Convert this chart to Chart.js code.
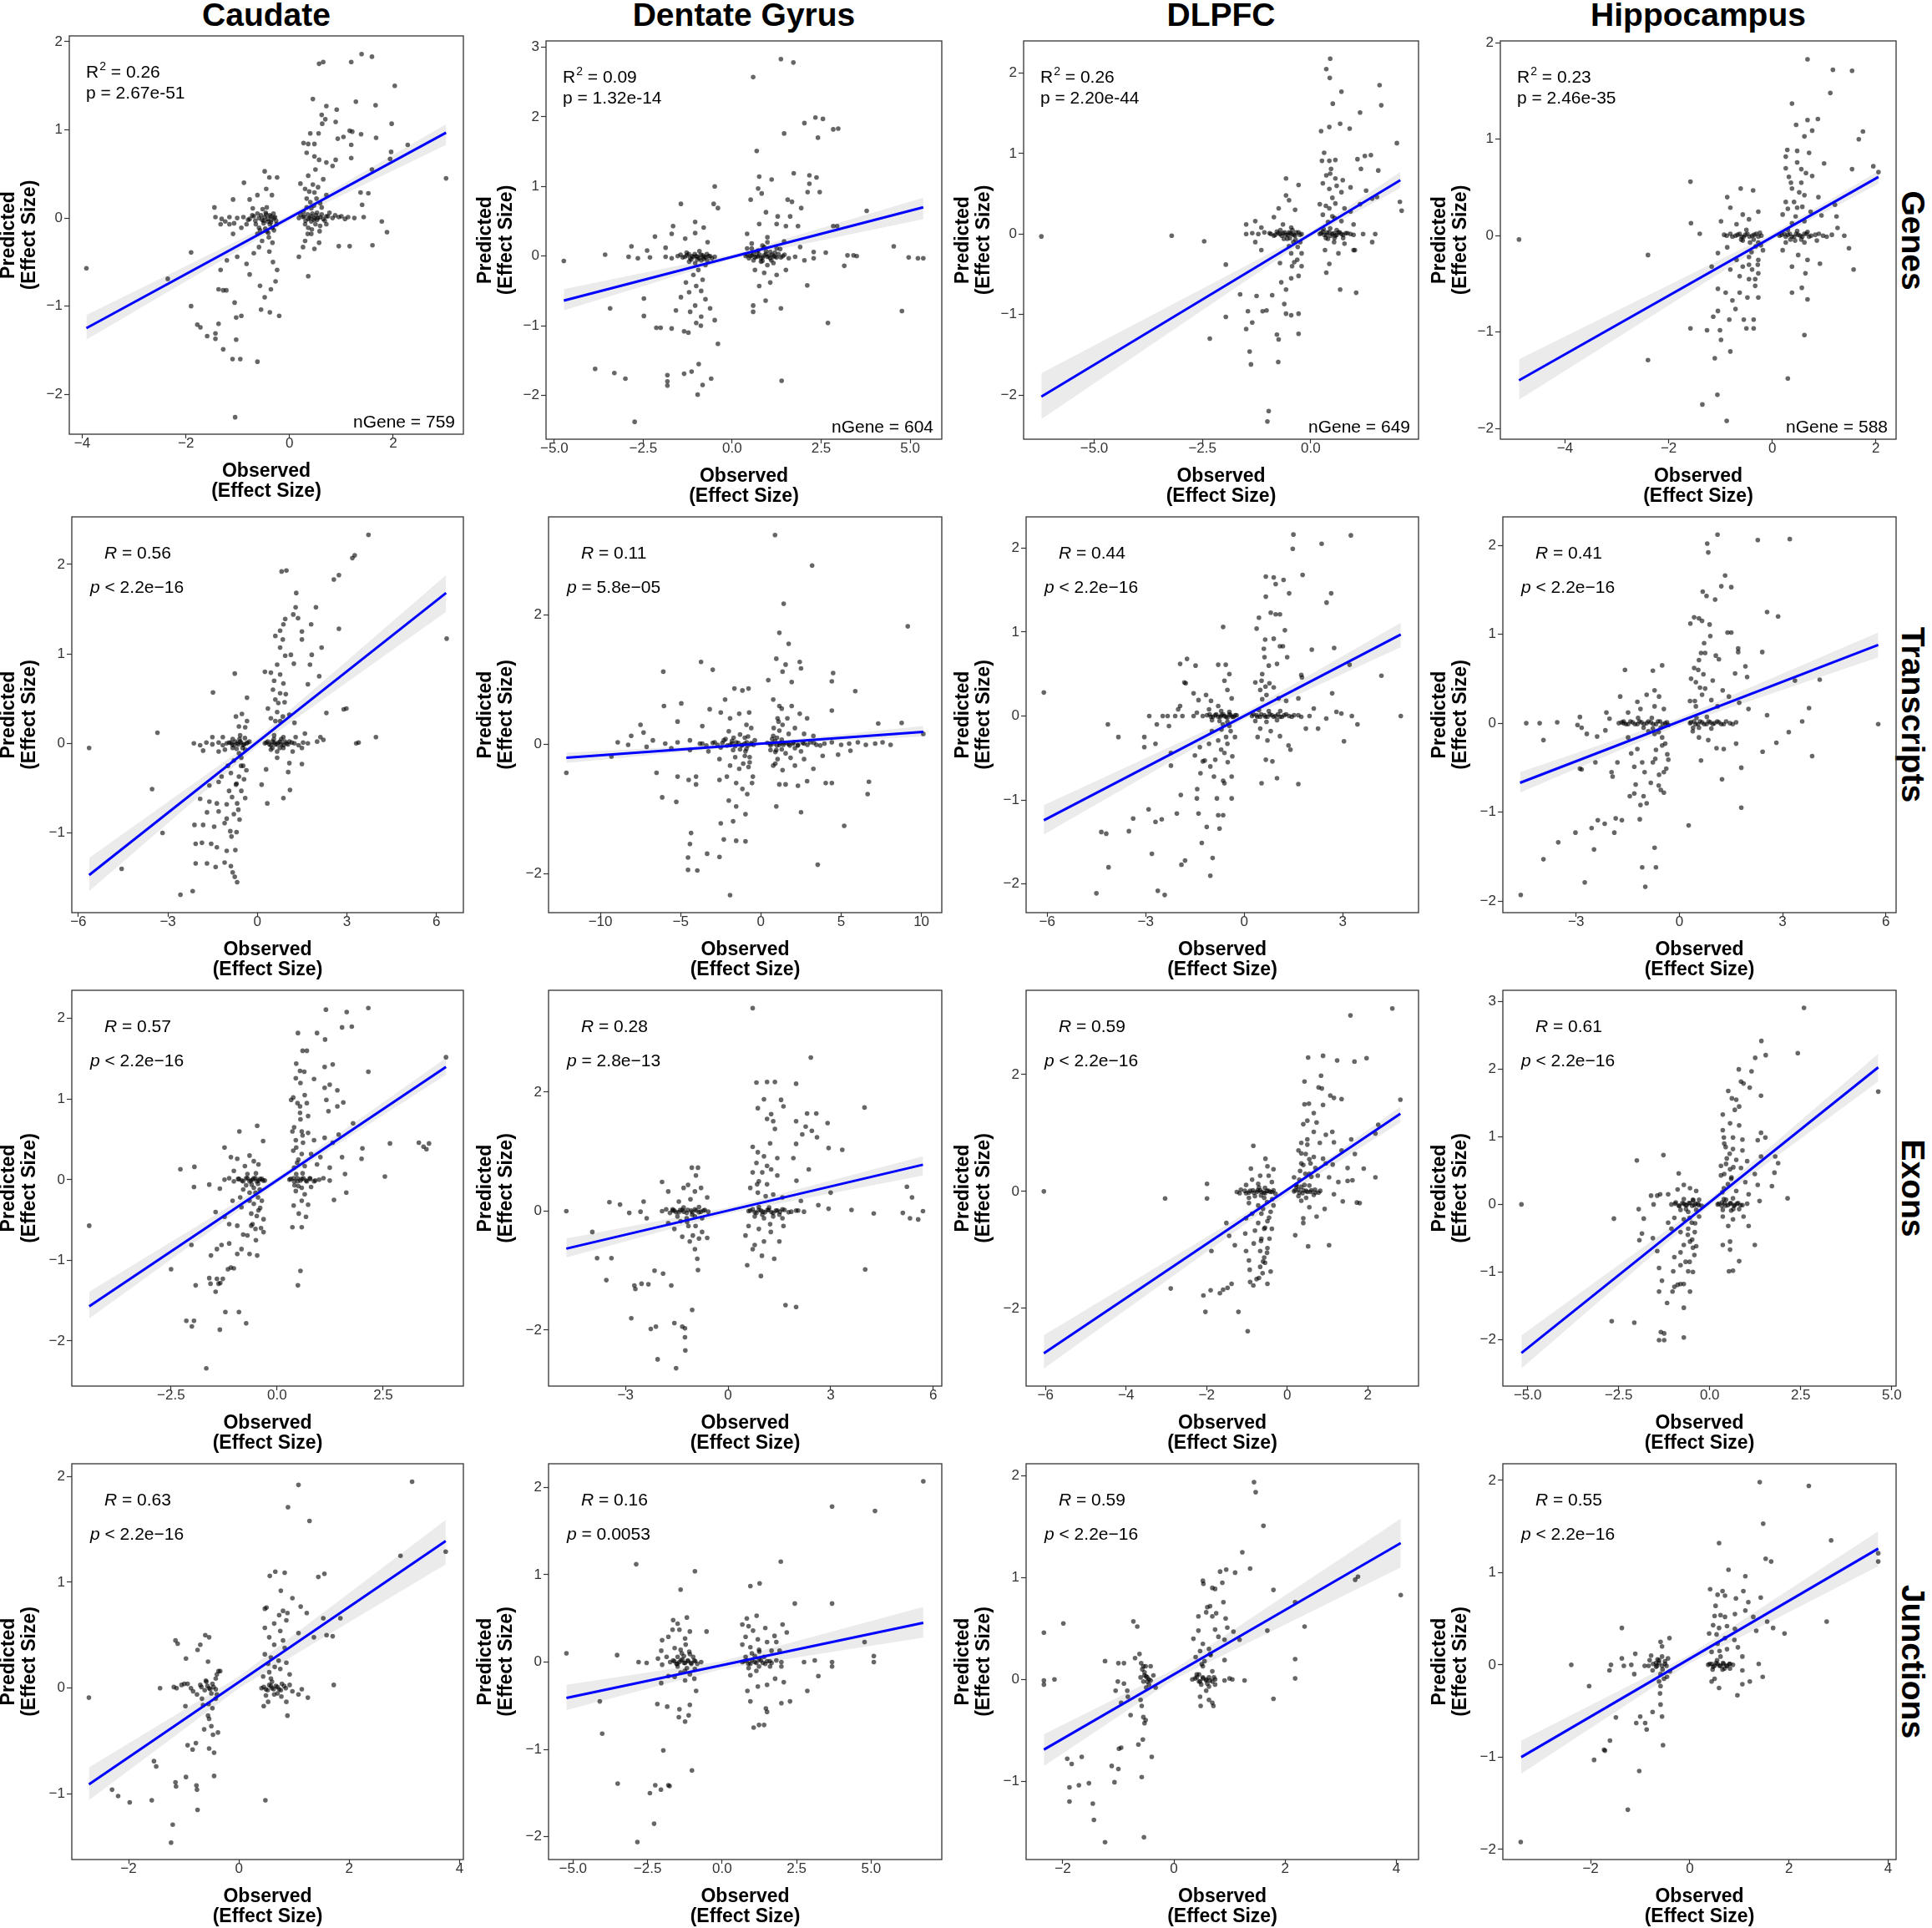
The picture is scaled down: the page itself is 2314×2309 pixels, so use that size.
<!DOCTYPE html>
<html><head><meta charset="utf-8">
<script src="https://cdn.jsdelivr.net/npm/chart.js@4.4.1/dist/chart.umd.min.js"></script>
<style>
html,body{margin:0;padding:0;background:#fff;}
#wrap{position:relative;width:2314px;height:2309px;overflow:hidden;background:#fff;}
#wrap canvas{position:absolute;}
.coltitle{position:absolute;top:-2px;font-family:'Liberation Sans',Arial,sans-serif;font-weight:bold;font-size:39px;line-height:39px;color:#000;transform:translateX(-50%);white-space:nowrap;}
.rowlabel{position:absolute;font-family:'Liberation Sans',Arial,sans-serif;font-weight:bold;font-size:39px;line-height:39px;color:#000;transform:translate(-50%,-50%) rotate(90deg);white-space:nowrap;}
</style></head>
<body><div id="wrap"></div>
<script>
// ---------------- DATA ----------------
const columns = ["Caudate", "Dentate Gyrus", "DLPFC", "Hippocampus"];
const rows = ["Genes", "Transcripts", "Exons", "Junctions"];

// statistics text
const statR = ["0.26","0.09","0.26","0.23", "0.56","0.11","0.44","0.41", "0.57","0.28","0.59","0.61", "0.63","0.16","0.59","0.55"];
const statP = ["= 2.67e-51","= 1.32e-14","= 2.20e-44","= 2.46e-35",
  "< 2.2e\u221216","= 5.8e\u221205","< 2.2e\u221216","< 2.2e\u221216",
  "< 2.2e\u221216","= 2.8e\u221213","< 2.2e\u221216","< 2.2e\u221216",
  "< 2.2e\u221216","= 0.0053","< 2.2e\u221216","< 2.2e\u221216"];
const nGene = ["759","604","649","588"];

// axis ranges
const xMin = [-4.25,-5.23,-6.63,-5.25, -6.22,-13.23,-6.64,-5.13, -4.84,-5.25,-6.48,-5.68, -3.03,-5.82,-2.66,-3.77];
const xMax = [3.354,5.89,2.49,2.39, 6.90,11.27,5.31,6.30, 4.39,6.25,3.26,5.12, 4.07,7.37,4.40,4.16];
const yMin = [-2.453,-2.63,-2.55,-2.11, -1.89,-2.60,-2.34,-2.13, -2.56,-2.94,-3.33,-2.69, -1.62,-2.26,-1.77,-2.11];
const yMax = [2.066,3.09,2.40,2.02, 2.53,3.51,2.37,2.32, 2.35,3.71,3.44,3.17, 2.12,2.27,2.12,2.18];

// ticks
const xTicks = [[-4,-2,0,2],[-5,-2.5,0,2.5,5],[-5,-2.5,0],[-4,-2,0,2],
  [-6,-3,0,3,6],[-10,-5,0,5,10],[-6,-3,0,3],[-3,0,3,6],
  [-2.5,0,2.5],[-3,0,3,6],[-6,-4,-2,0,2],[-5,-2.5,0,2.5,5],
  [-2,0,2,4],[-5,-2.5,0,2.5,5],[-2,0,2,4],[-2,0,2,4]];
const xTickLabels = [["\u22124","\u22122","0","2"],["\u22125.0","\u22122.5","0.0","2.5","5.0"],["\u22125.0","\u22122.5","0.0"],["\u22124","\u22122","0","2"],
  ["\u22126","\u22123","0","3","6"],["\u221210","\u22125","0","5","10"],["\u22126","\u22123","0","3"],["\u22123","0","3","6"],
  ["\u22122.5","0.0","2.5"],["\u22123","0","3","6"],["\u22126","\u22124","\u22122","0","2"],["\u22125.0","\u22122.5","0.0","2.5","5.0"],
  ["\u22122","0","2","4"],["\u22125.0","\u22122.5","0.0","2.5","5.0"],["\u22122","0","2","4"],["\u22122","0","2","4"]];
const yTicks = [[-2,-1,0,1,2],[-2,-1,0,1,2,3],[-2,-1,0,1,2],[-2,-1,0,1,2],
  [-1,0,1,2],[-2,0,2],[-2,-1,0,1,2],[-2,-1,0,1,2],
  [-2,-1,0,1,2],[-2,0,2],[-2,0,2],[-2,-1,0,1,2,3],
  [-1,0,1,2],[-2,-1,0,1,2],[-1,0,1,2],[-2,-1,0,1,2]];
const yTickLabels = yTicks.map(a => a.map(v => (v < 0 ? "\u2212" + Math.abs(v) : String(v))));

// regression line end points
const fitX0 = [-3.92,-4.73,-6.22,-4.89, -5.64,-12.12,-6.10,-4.63, -4.43,-4.73,-6.04,-5.17, -2.72,-5.22,-2.34,-3.40];
const fitY0 = [-1.25,-0.64,-2.02,-1.50, -1.47,-0.21,-1.24,-0.67, -1.57,-0.63,-2.77,-2.20, -0.91,-0.41,-0.69,-1.00];
const fitX1 = [3.02,5.37,2.07,2.05, 6.32,10.12,4.77,5.78, 3.98,5.70,2.81,4.63, 3.75,6.75,4.08,3.80];
const fitY1 = [0.968,0.70,0.67,0.61, 1.68,0.19,0.97,0.88, 1.40,0.78,1.33,2.03, 1.39,0.45,1.34,1.26];
// confidence band (left end, centre x=0, right end)
const bandLo = [[-1.38,-0.03,0.83],[-0.78,-0.04,0.53],[-2.30,-0.035,0.57],[-1.70,-0.045,0.54],
  [-1.65,-0.03,1.47],[-0.29,-0.01,0.12],[-1.41,-0.04,0.82],[-0.78,-0.02,0.74],
  [-1.72,-0.04,1.30],[-0.78,-0.04,0.60],[-3.03,-0.05,1.18],[-2.43,-0.02,1.82],
  [-1.06,0.0,1.17],[-0.55,-0.08,0.28],[-0.85,0.0,1.10],[-1.18,0.02,1.07]];
const bandHi = [[-1.10,0.035,1.065],[-0.475,0.02,0.84],[-1.73,0.03,0.77],[-1.28,0.02,0.67],
  [-1.28,0.06,1.88],[-0.13,0.025,0.28],[-1.06,0.04,1.11],[-0.55,0.06,1.02],
  [-1.39,0.03,1.51],[-0.46,0.06,0.92],[-2.46,0.05,1.45],[-1.94,0.08,2.23],
  [-0.75,0.11,1.59],[-0.26,0.01,0.63],[-0.54,0.10,1.58],[-0.82,0.11,1.45]];

// scatter points (x, y pairs)
const genesCaudate = [-3.92,-0.57,-2.35,-0.69,-1.90,-0.39,-1.90,-1.0,-1.78,-1.21,-1.72,-1.24,-1.59,-1.34,-1.43,-1.31,-1.43,-1.37,-1.37,-1.20,-1.28,-1.49,-1.10,-1.60,-0.95,-1.60,-0.62,-1.63,-1.05,-2.26,-1.03,-1.38,-1.06,-0.96,-1.03,-1.13,-0.93,-1.11,-1.37,-0.81,-1.28,-0.82,-1.22,-0.82,-1.33,-0.59,-1.21,-0.48,-0.38,-1.07,-0.20,-1.11,-0.55,-1.04,-0.48,-0.90,-0.57,-0.77,-0.36,-0.81,-0.27,-0.72,-0.77,-0.64,-0.83,-0.52,-1.01,-0.44,-0.69,-0.40,-0.59,-0.33,-0.39,-0.38,-0.32,-0.50,-0.24,-0.59,-1.09,-0.18,-1.16,-0.07,-1.45,0.12,-1.09,0.21,-0.88,0.40,-0.48,0.53,-0.39,0.46,-0.24,0.46,-0.45,0.33,-0.34,0.26,-0.62,0.26,-0.77,0.21,-0.71,0.11,
 -1.43,0.01,-1.31,-0.01,-1.16,0.01,-1.01,0,-0.89,0.01,-0.77,-0.01,-0.69,0.02,-0.59,0,-0.53,-0.02,-0.48,0.01,-0.42,-0.01,-0.36,0.02,-0.30,0,-0.26,-0.03,-0.45,0.04,-0.50,-0.06,-0.38,-0.07,-0.33,-0.11,-0.59,-0.11,-0.65,-0.07,-0.44,-0.15,-0.40,-0.22,-0.33,-0.28,-0.53,-0.26,-0.62,-0.18,-0.83,-0.07,-0.93,-0.11,-1.07,-0.06,-1.24,-0.04,-1.33,-0.07,
 0.57,1.75,0.65,1.77,1.19,1.77,1.39,1.86,1.59,1.83,2.03,1.50,0.45,1.35,0.71,1.27,1.28,1.32,1.66,1.28,0.91,1.23,0.62,1.17,0.69,1.12,0.89,1.09,0.63,1.07,1.97,1.07,0.40,0.96,0.56,0.96,1.16,0.99,1.21,0.98,1.38,0.95,1.67,0.91,0.93,0.90,1.04,0.92,1.19,0.83,0.27,0.85,0.36,0.84,0.48,0.84,2.28,0.83,1.96,0.75,1.94,0.67,1.19,0.68,0.89,0.66,0.71,0.63,0.33,0.74,0.48,0.70,0.57,0.66,0.83,0.59,0.50,0.55,0.36,0.48,0.65,0.44,1.59,0.55,3.02,0.45,0.21,0.39,0.30,0.33,0.48,0.29,0.71,0.26,1.37,0.29,1.52,0.28,1.40,0.15,0.33,0.22,0.59,0.17,0.42,0.11,
 0.18,0,0.26,0.01,0.36,-0.01,0.42,0.02,0.48,0,0.53,-0.02,0.59,0.01,0.65,-0.01,0.71,0.02,0.83,0,0.95,0.01,1.07,-0.01,1.25,0,1.43,0.01,0.42,-0.04,0.50,-0.07,0.30,-0.07,0.36,-0.11,0.59,-0.09,0.71,-0.07,0.21,0.04,0.27,0.07,0.53,0.06,0.77,0.06,
 1.78,-0.04,1.88,-0.16,1.60,-0.31,0.95,-0.32,1.16,-0.32,0.18,-0.44,0.36,-0.66,0.26,-0.33,0.48,-0.35,0.57,-0.28,0.30,-0.26,0.42,-0.18];
const genesCaudateCore = [-0.55,0.03,-0.50,-0.03,-0.46,0.06,-0.42,-0.04,-0.38,0.03,-0.35,-0.02,-0.31,0.05,-0.28,0.01,-0.62,0.05,-0.66,-0.03,-0.72,0.03,-0.80,-0.02,-0.47,-0.12,-0.41,-0.17,-0.36,-0.05,-0.52,0.10,-0.44,0.12,-0.30,-0.14,-0.25,-0.07,-0.57,-0.14,
 0.28,0.02,0.31,-0.03,0.35,0.04,0.39,0.0,0.44,0.05,0.47,-0.02,0.51,0.03,0.55,0.0,0.62,0.04,0.68,-0.03,0.74,0.02,0.33,0.12,0.40,0.18,0.47,0.14,0.52,0.22,0.38,0.30,0.45,0.38,0.55,0.35,0.62,0.12,0.35,-0.18,0.43,-0.13,0.58,-0.15,0.88,0.03,1.0,0.02,1.13,0.01];

const genesDentate = [1.37,2.83,1.72,2.78,0.59,2.57,2.03,1.91,2.34,1.99,2.55,1.97,2.84,1.82,2.98,1.83,1.46,1.76,2.41,1.70,0.69,1.51,1.73,1.19,2.17,1.16,2.37,1.13,0.76,1.14,1.11,1.10,-0.49,1.00,0.73,0.97,0.83,0.90,2.17,1.04,2.12,0.92,2.46,0.92,1.56,0.81,1.68,0.78,0.52,0.81,-1.44,0.75,-0.52,0.75,-0.40,0.69,3.78,0.65,0.95,0.63,1.28,0.57,1.63,0.57,1.94,0.69,2.84,0.43,2.95,0.43,-1.66,0.43,-1.04,0.49,-0.80,0.41,0.76,0.46,1.25,0.46,1.51,0.43,1.85,0.43,-2.17,0.28,-1.70,0.32,-1.04,0.33,-1.32,0.25,-0.69,0.20,-2.83,0.14,-2.39,0.08,-1.87,0.12,0.42,0.32,0.99,0.27,1.46,0.21,1.91,0.13,2.29,0.06,2.63,0.05,4.54,0.14,3.24,0.01,3.41,0.01,3.50,0,3.15,-0.14,4.96,-0.02,5.22,-0.03,5.37,-0.03,-4.73,-0.07,-3.57,0.02,-2.91,-0.01,-2.65,-0.03,-2.31,-0.02,
 -1.87,-0.01,-1.70,-0.03,-1.53,0,-1.39,-0.02,-1.27,0.01,-1.18,-0.03,-1.09,-0.01,-1.01,0,-0.92,-0.03,-0.83,0.01,-0.75,-0.02,-0.66,0,-0.57,-0.03,-0.49,-0.01,-1.21,-0.08,-1.04,-0.10,-0.87,-0.06,-0.75,-0.13,-0.95,-0.20,-1.09,-0.27,-0.83,-0.34,-1.30,-0.38,-1.01,-0.43,-1.21,-0.52,-0.87,-0.50,-0.75,-0.62,-1.04,-0.71,-1.18,-0.80,-0.87,-0.87,-1.44,-0.59,-1.58,-0.78,-0.62,-0.75,-0.49,-0.92,-1.35,-1.08,-1.70,-1.04,-2.01,-1.03,-1.01,-0.96,-0.88,-1.00,-1.23,-1.10,
 -3.43,-0.75,-2.48,-0.61,-2.48,-0.86,-2.13,-1.03,-0.40,-1.26,-3.85,-1.62,-3.31,-1.68,-3.00,-1.76,-1.82,-1.71,-1.82,-1.80,-1.82,-1.86,-1.35,-1.69,-1.14,-1.66,-0.94,-1.55,-0.59,-1.76,-0.83,-1.85,-0.97,-1.99,-2.74,-2.38,1.39,-1.79,0.59,-0.71,0.59,-0.80,0.94,-0.64,1.37,-0.75,2.69,-0.96,4.77,-0.79,
 0.38,0,0.47,-0.03,0.55,0.01,0.64,-0.02,0.73,0,0.81,-0.03,0.90,0.01,0.99,-0.01,1.07,-0.03,1.16,0,1.25,-0.02,1.42,0,1.59,-0.03,1.77,-0.01,0.73,0.08,0.90,0.13,1.07,0.06,1.25,0.11,0.81,-0.08,0.99,-0.13,1.16,-0.10,0.64,-0.20,0.90,-0.24,1.25,-0.27,1.07,-0.38,0.76,-0.43,1.51,-0.20,2.11,-0.42,2.03,-0.06,2.29,-0.03,0.42,0.11,0.55,0.18,0.99,0.20];
const genesDentateCore = [-1.45,0.02,-1.33,-0.01,-1.22,0.03,-1.13,0.0,-1.05,0.03,-0.97,-0.01,-0.88,0.02,-0.79,-0.01,-0.71,0.03,-0.62,0.0,-1.15,-0.05,-0.98,-0.05,-0.80,-0.04,-1.28,0.05,-0.92,0.07,-0.70,-0.06,
 0.42,0.02,0.51,0.0,0.60,0.03,0.68,-0.01,0.77,0.02,0.86,-0.02,0.95,0.03,1.03,0.0,1.12,0.02,1.20,-0.01,1.30,0.03,1.37,-0.02,1.47,0.02,0.60,-0.06,0.85,-0.07,1.10,-0.06,0.70,0.06,0.95,0.07,1.20,0.05,0.55,0.11,0.85,0.15,1.35,0.10];

const genesDLPFC = [-6.22,-0.03,-3.21,-0.02,-2.46,-0.09,-2.33,-1.30,-1.96,-0.38,-1.96,-1.03,-1.63,-0.75,-1.49,-1.18,-1.41,-1.46,-1.38,-1.62,-1.35,-1.10,-1.45,-0.96,-1.25,-0.77,-1.11,-0.96,-1.02,-0.95,-0.89,-0.76,-0.78,-1.25,-0.75,-1.59,-0.74,-1.31,-0.97,-2.20,-1.0,-2.33,-0.61,-0.87,-0.57,-0.99,-0.45,-1.01,-0.28,-0.99,-0.28,-1.24,-0.68,-0.60,-0.57,-0.69,-0.43,-0.40,-0.28,-0.52,-0.21,-0.40,-0.31,-0.32,-0.71,-0.36,-1.14,-0.20,-1.28,-0.10,-1.49,0,-1.35,0.01,-1.21,0,-1.07,0.02,-0.92,0,-0.85,-0.02,-0.78,0.03,-0.71,0,-0.64,0.01,-0.57,-0.01,-0.50,0.02,-0.43,0,-0.36,-0.02,-0.28,0.02,-0.21,0,-0.54,-0.06,-0.40,-0.10,-0.45,0.08,-0.64,0.12,-0.85,0.21,-0.74,0.32,-0.57,0.48,-0.57,0.69,-0.28,0.61,-0.50,0.42,-0.36,0.30,-1.28,0.16,-1.14,0.08,-1.49,0.12,-0.24,-0.10,-0.21,-0.24,-0.45,-0.24,
 0.45,2.18,0.36,2.05,0.44,1.94,0.71,1.77,1.59,1.85,1.63,1.60,0.51,1.62,1.14,1.51,0.68,1.37,0.43,1.33,0.24,1.28,0.90,1.31,1.99,1.13,0.31,1.01,0.26,0.91,0.43,0.91,0.57,0.92,1.08,0.93,1.25,0.97,1.39,0.98,1.16,0.81,1.56,0.79,0.47,0.81,0.36,0.73,0.57,0.69,0.74,0.67,0.92,0.58,0.28,0.63,0.43,0.56,0.71,0.52,1.28,0.54,1.42,0.44,1.53,0.46,2.06,0.40,2.10,0.29,1.14,0.37,0.21,0.37,0.43,0.32,0.57,0.38,0.78,0.32,0.92,0.28,0.28,0.24,0.50,0.22,0.71,0.16,0.99,0.12,
 0.21,0,0.28,0.03,0.36,-0.01,0.43,0.02,0.50,0,0.57,-0.02,0.64,0.02,0.71,0,0.85,0.01,0.99,-0.01,1.21,0,1.49,0,0.40,-0.06,0.54,-0.10,0.78,-0.12,0.33,-0.20,0.64,-0.24,0.99,-0.20,0.43,-0.37,0.36,-0.48,0.68,-0.69,1.05,-0.73,1.02,-0.20,1.42,-0.10];
const genesDLPFCCore = [-0.95,0.01,-0.82,-0.01,-0.75,0.01,-0.67,-0.02,-0.60,0.02,-0.53,-0.01,-0.47,0.01,-0.39,-0.01,-0.33,0.02,-0.25,-0.01,-0.62,-0.06,-0.48,-0.05,-0.35,-0.07,-0.70,0.05,-0.42,0.05,-0.30,-0.16,-0.50,-0.15,-0.38,-0.35,-0.45,-0.55,
 0.24,0.01,0.31,-0.01,0.38,0.02,0.46,-0.02,0.53,0.01,0.60,-0.01,0.67,0.02,0.75,-0.01,0.81,0.01,0.92,0.0,0.30,0.06,0.45,0.07,0.60,0.05,0.35,-0.05,0.55,-0.05,0.75,-0.05,0.40,0.15,0.55,0.20,0.35,0.35,0.50,0.45,0.60,0.60,0.45,0.75];

const genesHippo = [-4.89,-0.04,-2.40,-0.20,-2.40,-1.29,-1.58,0.56,-1.57,0.13,-1.58,-0.96,-1.40,0.02,-1.35,-1.75,-1.26,-0.98,-1.11,-1.27,-1.06,-1.65,-0.88,-1.92,-0.81,-1.20,-0.99,-1.08,-1.01,-0.98,-1.14,-0.84,-1.05,-0.78,-0.83,-0.87,-0.71,-0.76,-0.55,-0.87,-0.36,-0.87,-0.36,-0.96,-0.50,-0.96,-1.05,-0.55,-0.90,-0.59,-0.77,-0.67,-0.63,-0.59,-0.48,-0.64,-0.27,-0.64,-0.33,-0.52,-0.45,-0.45,-0.63,-0.42,-0.81,-0.35,-0.57,-0.32,-0.39,-0.35,-0.27,-0.39,-1.17,-0.32,-1.05,-0.18,-0.87,-0.12,-0.69,-0.25,-0.45,-0.22,-0.27,-0.25,-0.18,-0.15,
 -0.93,0.01,-0.81,0.02,-0.71,0,-0.63,0.02,-0.55,-0.01,-0.48,0.02,-0.39,0,-0.31,0.02,-0.21,0,-0.57,-0.05,-0.43,-0.07,-0.27,-0.07,
 -0.87,0.40,-0.61,0.49,-0.37,0.47,-0.81,0.29,-0.57,0.22,-0.99,0.15,-0.45,0.17,-0.27,0.25,-0.69,0.12,
 0.68,1.83,1.17,1.72,1.54,1.71,1.12,1.48,0.38,1.37,0.88,1.21,0.68,1.20,0.46,1.15,0.77,1.09,1.75,1.08,1.67,1.0,0.62,1.03,0.29,0.89,0.48,0.88,0.71,0.86,1.0,0.75,0.26,0.82,0.48,0.76,0.56,0.69,0.26,0.70,0.77,0.62,1.54,0.69,1.95,0.72,2.05,0.66,0.32,0.61,0.56,0.55,0.38,0.49,0.62,0.42,0.89,0.40,0.26,0.35,0.48,0.29,0.74,0.25,0.95,0.21,1.21,0.32,1.24,0.20,1.26,0.08,0.20,0.22,0.38,0.13,0.62,0.15,
 0.14,0,0.23,0.02,0.30,0.01,0.38,-0.01,0.46,0.02,0.54,0,0.62,0.02,0.71,-0.01,0.83,0.01,0.98,0,1.15,0.01,1.39,0,0.44,-0.05,0.62,-0.07,0.86,-0.05,0.26,-0.07,
 0.20,-0.15,0.50,-0.20,0.68,-0.25,0.38,-0.32,0.64,-0.39,0.92,-0.29,1.48,-0.13,1.57,-0.35,0.57,-0.54,0.38,-0.59,0.68,-0.66,0.62,-1.03,0.30,-1.48];
const genesHippoCore = [-0.88,0.0,-0.77,-0.01,-0.67,0.01,-0.59,-0.01,-0.52,0.01,-0.44,-0.01,-0.35,0.01,-0.27,-0.01,-0.24,0.03,-0.60,-0.04,-0.36,-0.04,-0.50,0.06,-0.32,-0.11,-0.40,-0.17,-0.28,-0.30,-0.45,-0.30,-0.33,-0.45,-0.22,-0.10,
 0.18,0.01,0.26,-0.01,0.34,0.02,0.42,-0.01,0.50,0.01,0.58,-0.01,0.66,0.02,0.75,0.0,0.90,0.02,1.05,-0.01,0.30,0.06,0.48,0.05,0.68,0.04,0.35,-0.04,0.56,-0.04,0.30,0.28,0.42,0.35,0.52,0.45,0.36,0.55,0.58,0.30,0.45,0.20,0.65,0.65];

const txCaudate = [-5.64,-0.05,-4.55,-1.40,-3.53,-0.51,-3.35,0.12,-3.18,-1.00,-2.58,-1.69,-2.17,-1.65,-2.07,-1.34,-1.69,-1.34,-1.40,-1.38,-1.10,-1.33,-0.89,-1.37,-0.83,-1.44,-0.76,-1.49,-0.68,-1.55,-2.07,-1.12,-1.86,-1.11,-1.55,-1.12,-1.36,-1.16,-1.03,-1.20,-0.74,-1.19,-2.11,-0.91,-1.82,-0.91,-1.45,-0.93,-1.10,-0.89,-0.91,-0.98,-0.70,-0.99,-0.87,-1.04,-1.69,-0.77,-1.30,-0.76,-1.03,-0.84,-0.79,-0.79,-0.64,-0.74,-1.92,-0.62,-1.61,-0.65,-1.36,-0.67,-1.03,-0.68,-0.68,-0.67,-0.41,-0.61,-0.54,-0.53,-1.61,-0.47,-1.30,-0.43,-0.95,-0.53,-0.72,-0.46,-1.20,-0.37,-0.89,-0.33,-0.62,-0.37,-0.37,-0.30,-0.48,-0.25,-0.99,-0.25,-0.79,-0.19,-0.54,-0.16,-1.49,0.57,-0.76,0.78,-0.35,0.51,-0.72,0.30,-0.52,0.33,-0.35,0.25,-0.62,0.19,-0.41,0.18,
 -2.13,0,-1.92,-0.02,-1.71,0.01,-1.51,-0.01,-1.30,0.01,-1.16,-0.02,-1.03,0,-0.89,0.01,-0.79,-0.02,-0.68,0,-0.58,0.02,-0.48,-0.02,-0.37,0,-0.27,0.02,-1.30,-0.09,-1.09,-0.07,-0.83,-0.05,-0.62,-0.11,-0.41,-0.07,-1.82,-0.08,-1.51,0.07,-1.16,0.07,-0.83,0.05,-0.58,0.09,
 3.72,2.33,3.18,2.07,3.26,2.10,0.81,1.92,0.97,1.93,2.56,1.83,2.73,1.88,1.30,1.68,1.96,1.52,1.28,1.52,1.20,1.44,1.36,1.40,0.93,1.39,0.87,1.33,1.80,1.33,0.76,1.26,2.73,1.28,1.49,1.25,0.60,1.20,0.85,1.16,1.49,1.16,0.76,1.07,2.15,1.07,0.93,0.98,1.12,0.99,1.82,0.99,0.66,0.88,1.22,0.89,1.76,0.88,0.25,0.80,0.45,0.79,0.76,0.77,2.07,0.75,0.56,0.70,0.87,0.67,1.69,0.66,0.52,0.60,0.76,0.56,0.60,0.49,0.91,0.46,0.35,0.39,0.66,0.35,1.07,0.32,2.89,0.38,2.98,0.39,2.31,0.34,0.45,0.28,0.76,0.25,1.24,0.23,6.34,1.17,3.97,0.07,3.39,0.01,3.31,0,
 0.25,0,0.35,0.02,0.45,-0.02,0.56,0.01,0.66,-0.01,0.76,0.02,0.87,-0.02,0.97,0,1.07,0.02,1.24,0,1.38,-0.02,1.53,0.01,1.69,0,2.00,0.02,2.21,0.04,0.45,-0.07,0.66,-0.09,0.87,-0.05,1.18,-0.09,1.49,-0.05,0.56,0.09,0.87,0.07,1.28,0.07,1.59,0.11,2.11,0.07,
 0.29,-0.29,0.66,-0.16,1.07,-0.22,1.49,-0.23,1.03,-0.32,1.09,-0.52,0.87,-0.61,0.33,-0.67,0.14,-0.46];
const txCaudateCore = [-0.95,0.01,-0.85,-0.01,-0.74,0.02,-0.64,-0.01,-0.55,0.01,-0.45,-0.01,-0.33,0.01,-0.70,-0.06,-0.50,-0.05,-0.60,0.05,-0.42,0.06,-0.55,-0.25,-0.45,-0.40,-0.70,-0.45,-0.60,-0.85,-0.85,-0.60,
 0.30,0.01,0.40,-0.01,0.50,0.02,0.60,-0.01,0.70,0.01,0.80,-0.01,0.92,0.02,1.02,-0.01,1.15,0.01,0.50,-0.05,0.75,-0.05,0.55,0.05,0.80,0.05,0.60,0.25,0.70,0.45,0.95,0.55,0.85,0.30];

const txDentate = [0.88,3.23,3.19,2.76,1.42,2.17,9.15,1.82,1.15,1.72,1.73,1.55,-3.73,1.27,-3.0,1.15,-6.08,1.12,0.96,1.32,1.54,1.23,2.42,1.27,0.46,0.99,1.35,1.12,1.92,0.96,2.50,1.17,4.50,1.10,4.42,0.97,5.88,0.82,-1.65,0.86,-1.15,0.83,-0.77,0.86,-2.23,0.69,-6.04,0.59,-4.96,0.63,-3.19,0.54,-2.50,0.49,-1.92,0.40,-1.35,0.47,-0.73,0.49,0.77,0.69,1.15,0.59,1.92,0.59,2.42,0.47,2.88,0.40,4.42,0.52,7.31,0.32,8.77,0.33,-7.50,0.30,-5.19,0.35,-3.65,0.28,-8.92,0.03,-8.08,0.13,-7.31,0.18,-6.73,0.06,-5.96,0.01,-5.19,0.03,-4.42,0.06,-3.65,0.01,-2.88,0.03,-2.31,0.06,-1.92,-0.01,-1.54,0.03,-1.15,-0.01,-0.88,0.03,-0.58,0,-0.38,0.06,-2.50,-0.05,-1.73,-0.09,-0.96,-0.11,-3.27,-0.11,-4.42,-0.09,-5.58,-0.06,-7.12,-0.04,-8.27,-0.01,-9.31,-0.19,-12.12,-0.44,-6.5,-0.44,-5.19,-0.50,-4.5,-0.55,-4.04,-0.50,-4.04,-0.62,-2.58,-0.55,-2.12,-0.50,-1.54,-0.60,-1.15,-0.69,-0.85,-0.77,-1.92,-0.33,-1.35,-0.38,-0.77,-0.35,-2.58,-0.23,-6.15,-0.82,-5.27,-0.89,-2.50,-1.22,-1.73,-1.19,-2.0,-0.87,-1.54,-0.96,-0.96,-1.08,-4.35,-1.37,-4.42,-1.54,-2.31,-1.47,-1.54,-1.49,-0.96,-1.50,-4.54,-1.75,-3.35,-1.69,-2.58,-1.74,-4.54,-1.94,-3.96,-1.95,-1.92,-2.33,0.96,-0.96,2.50,-1.05,5.19,-1.26,3.54,-1.86,6.65,-0.77,6.73,-0.58,4.04,-0.60,4.42,-0.60,1.15,-0.62,1.54,-0.62,2.31,-0.64,2.88,-0.57,0.77,-0.33,1.35,-0.40,2.12,-0.33,3.27,-0.38,1.04,-0.23,1.85,-0.21,2.69,-0.23,3.85,-0.18,4.81,-0.16,5.58,-0.10,
 0.58,0.01,0.88,0.05,1.15,-0.01,1.42,0.02,1.73,0,2.04,0.03,2.31,-0.01,2.69,0.01,3.08,0.03,3.46,-0.01,3.96,0.01,4.42,0.03,5.0,-0.01,5.5,0.01,6.04,0.03,6.54,-0.01,7.12,0.01,7.58,0.03,8.08,-0.01,0.77,0.13,1.15,0.21,1.35,0.30,1.73,0.16,2.12,0.25,1.04,0.40,1.65,0.40,2.69,0.16,3.27,0.13,0.96,-0.09,1.54,-0.14,2.12,-0.06,2.50,-0.11,10.12,0.16,
 -1.0,0.1,-0.7,-0.2,-1.3,0.15,-0.6,0.25,-2.0,0.2,-1.6,-0.2,-0.5,-0.5,-1.1,-0.3,-0.8,0.12,-1.8,0.05];
const txDentateCore = [-3.8,0.01,-3.4,-0.02,-3.0,0.02,-2.7,-0.01,-2.4,0.02,-2.1,-0.02,-1.8,0.01,-1.6,-0.03,-1.4,0.02,-1.2,-0.02,-1.0,0.01,-0.8,-0.02,-0.6,0.02,-0.45,-0.01,-1.3,-0.08,-0.9,-0.07,-2.2,0.08,-1.7,0.10,-1.0,-0.18,-0.7,-0.28,-0.55,-0.60,-0.9,0.30,
 0.4,0.02,0.6,-0.02,0.8,0.01,1.0,-0.02,1.2,0.02,1.4,-0.01,1.6,0.02,1.8,-0.02,2.0,0.01,2.3,-0.02,2.6,0.02,2.9,-0.01,3.3,0.02,3.7,-0.02,0.7,0.08,1.0,0.10,1.3,0.07,0.6,-0.09,0.9,-0.12,1.3,-0.08,0.8,0.25,1.1,0.35,1.3,0.55,0.9,-0.30];

const txDLPFC = [-6.10,0.28,-4.50,-2.11,-4.35,-1.38,-4.20,-1.40,-4.13,-1.80,-4.15,-0.10,-3.83,-0.25,-3.51,-1.37,-3.38,-1.22,-3.04,-0.25,-3.04,-0.37,-2.91,-1.11,-2.81,-1.64,-2.70,-1.26,-2.51,-1.23,-2.63,-2.08,-2.42,-2.13,-2.89,0,-2.66,-0.10,-2.70,-0.33,-2.48,0,-2.33,0,-2.29,-0.12,-2.23,-0.44,-2.23,-0.59,-2.05,-1.16,-1.91,-1.77,-1.80,-1.72,-1.93,-0.94,-1.95,0.62,-1.74,0.68,-1.48,0.60,-1.82,0.40,-1.78,0.39,-1.95,0.12,-2.01,0.08,-2.10,0,-1.88,0,-1.54,0,-1.44,0.04,-1.54,0.27,-1.39,0.19,-1.50,-0.47,-1.35,-0.37,-1.26,-0.54,-1.33,-0.68,-1.43,-0.87,-1.44,-0.98,-1.39,-1.16,-1.29,-1.51,-1.14,-1.32,-1.03,-1.90,-0.96,-1.69,-0.79,-1.18,-0.64,-1.18,-0.75,-1.34,-0.83,-0.98,-0.92,-0.72,-0.64,-0.77,-0.38,-0.72,-0.38,-0.98,-1.03,-0.60,-1.20,-0.53,-0.88,-0.52,-0.60,-0.44,-0.36,-0.48,-1.07,-0.33,-0.79,-0.29,-0.51,-0.33,-0.28,-0.25,-0.98,-0.18,-0.69,-0.16,-0.41,-0.18,-1.16,0.25,-1.01,0.18,-0.79,0.61,-0.56,0.61,-0.64,1.06,-0.45,0.50,-0.60,0.42,-0.51,0.31,-0.38,0.21,-0.79,0.12,-1.07,0.08,
 -1.26,0,-1.13,0.01,-1.01,-0.01,-0.88,0.01,-0.79,-0.01,-0.69,0.01,-0.60,0,-0.51,-0.02,-0.41,0.01,-0.32,-0.01,-0.23,0.01,-0.75,-0.06,-0.51,-0.07,-0.98,-0.05,
 1.50,2.16,1.48,1.99,2.36,2.05,3.25,2.15,1.78,1.68,0.66,1.66,0.90,1.65,1.20,1.62,0.96,1.57,2.65,1.46,1.37,1.46,0.66,1.42,2.51,1.35,0.81,1.23,0.96,1.21,1.09,1.21,0.45,1.17,0.38,1.04,1.24,1.02,0.90,0.92,0.64,0.91,1.09,0.83,1.18,0.83,1.31,0.70,2.06,0.79,2.74,0.81,0.62,0.70,1.00,0.62,3.21,0.61,4.18,0.48,1.74,0.49,1.76,0.46,0.34,0.40,0.53,0.42,0.77,0.39,0.90,0.34,0.49,0.31,0.68,0.25,1.05,0.21,2.68,0.27,1.28,0.18,1.65,0.21,2.12,0.09,2.81,0.05,2.96,0.03,3.28,0,4.77,0,3.45,-0.10,3.04,-0.30,2.50,-0.03,2.25,-0.15,1.88,-0.15,1.41,-0.40,1.35,-0.35,0.66,-0.52,0.86,-0.54,0.53,-0.80,1.0,-0.74,1.65,-0.81,0.41,-0.25,0.71,-0.29,1.09,-0.24,0.49,-0.15,0.81,-0.18,
 0.24,0,0.38,0.01,0.49,-0.01,0.62,0.01,0.71,-0.01,0.84,0.01,0.96,0,1.09,-0.01,1.22,0.01,1.37,0,1.52,0.01,1.74,-0.01,1.99,0,0.34,-0.06,0.68,-0.07,1.0,-0.05];
const txDLPFCCore = [-1.05,0.02,-0.95,-0.01,-0.85,0.02,-0.73,-0.01,-0.64,0.02,-0.55,-0.01,-0.45,0.02,-0.36,-0.01,-0.27,0.01,-0.70,0.06,-0.45,0.05,-0.65,-0.10,-0.45,-0.12,-0.55,-0.25,-0.70,-0.40,-0.50,-0.55,-0.60,-0.80,
 0.28,0.02,0.40,-0.01,0.52,0.02,0.65,-0.01,0.78,0.02,0.90,-0.01,1.03,0.02,1.15,-0.01,1.28,0.02,1.45,-0.01,1.65,0.01,0.45,0.07,0.75,0.06,1.10,0.06,0.55,0.20,0.65,0.35,0.55,0.50,0.75,0.60,0.60,0.80];

const txHippo = [-4.61,-1.93,-4.45,0,-4.06,0,-3.95,-0.19,-3.95,-1.53,-3.55,0.01,-3.52,-1.34,-3.02,-1.23,-2.75,-1.79,-2.55,-1.18,-2.48,-1.42,-2.37,-1.09,-2.17,-1.13,-1.89,-1.23,-1.85,-1.07,-1.67,-1.09,-1.15,-1.08,-1.08,-1.62,-0.99,-1.84,-0.72,-1.40,-0.68,-1.62,0.27,-1.15,-2.89,0.07,-2.96,-0.02,-2.84,-0.05,-2.69,-0.12,-2.39,-0.15,-2.44,-0.44,-2.84,-0.52,-2.89,-0.51,-2.15,-0.08,-2.12,0.12,-2.03,0.05,-1.97,-0.55,-1.94,-0.60,-1.80,-0.44,-1.72,0.30,-1.58,0.60,-1.62,0,-1.49,0.12,-1.49,-0.16,-1.40,-0.34,-1.31,-0.49,-1.27,-0.69,-1.22,-0.29,-1.13,0.16,-1.22,0.24,-1.08,-0.44,-1.01,-0.55,-1.04,-0.82,-1.44,-0.82,-1.31,-0.79,-1.13,-0.92,-0.95,-0.90,-0.83,-0.67,-0.77,-0.44,-0.68,-0.30,-0.59,-0.58,-0.54,-0.75,-0.45,-0.78,-0.38,-0.51,-0.41,-0.23,-0.32,-0.41,-0.50,-0.16,-0.72,-0.12,-0.90,-0.09,-0.77,0.59,-0.50,0.65,-0.72,0.37,-0.95,0.32,-0.59,0.30,-0.72,0.19,-0.45,0.16,
 -1.76,0,-1.62,0.02,-1.49,-0.01,-1.36,0.01,-1.22,-0.01,-1.10,0.01,-0.95,0,-0.83,0.01,-0.68,-0.01,-0.56,0.02,-0.41,0,-0.32,-0.02,-1.04,-0.05,-0.77,-0.06,-0.54,-0.05,
 1.11,2.12,0.81,2.02,0.84,1.92,2.28,2.06,3.21,2.07,1.33,1.66,1.22,1.54,1.51,1.53,0.68,1.48,0.79,1.43,1.04,1.39,2.55,1.25,2.87,1.20,0.43,1.19,0.57,1.18,0.32,1.12,0.66,1.15,0.88,1.11,1.40,1.02,1.51,1.02,0.90,0.98,0.72,0.90,1.71,0.84,1.71,0.80,2.41,0.80,0.63,0.79,0.75,0.79,1.06,0.76,0.57,0.71,1.15,0.72,0.43,0.62,1.92,0.64,1.62,0.56,1.97,0.52,4.08,0.49,3.36,0.48,0.34,0.50,0.48,0.46,0.75,0.39,0.97,0.48,1.26,0.37,1.44,0.30,0.66,0.32,0.93,0.26,0.31,0.25,0.48,0.19,1.11,0.19,1.74,0.23,2.01,0.16,2.55,0.09,3.77,0.17,3.57,0.02,3.18,-0.10,2.82,-0.22,2.42,-0.32,3.86,-0.37,5.78,-0.01,1.80,-0.50,1.24,-0.63,1.80,-0.95,0.63,-0.42,1.08,-0.28,1.29,-0.29,1.65,-0.23,0.57,-0.16,0.84,-0.19,0.39,-0.09,
 0.31,0,0.43,0.02,0.54,-0.01,0.66,0.01,0.79,-0.01,0.90,0.01,1.02,0,1.15,0.01,1.29,-0.01,1.47,0,1.65,0.01,0.57,-0.05,0.93,-0.06];
const txHippoCore = [-1.68,0.01,-1.55,-0.01,-1.42,0.02,-1.29,-0.01,-1.16,0.02,-1.03,-0.01,-0.90,0.02,-0.76,-0.01,-0.62,0.02,-0.48,-0.01,-0.36,0.01,-1.20,0.06,-0.80,0.06,-0.60,-0.10,-0.50,-0.25,-0.70,-0.40,-0.45,-0.55,-0.60,-0.70,-0.35,-0.35,
 0.34,0.01,0.47,-0.01,0.60,0.02,0.72,-0.01,0.85,0.02,0.97,-0.01,1.10,0.02,1.22,-0.01,1.36,0.02,1.55,-0.01,0.50,0.06,0.80,0.07,0.45,0.25,0.60,0.40,0.55,0.60,0.70,0.55,0.40,-0.05];

const exCaudate = [-4.43,-0.57,-2.5,-1.11,-2.28,0.13,-2.14,-1.75,-2.01,-1.82,-1.96,-1.75,-1.95,0.16,-1.96,-0.09,-1.92,-1.31,-2.02,-0.81,-1.67,-2.34,-1.60,-1.22,-1.57,-1.29,-1.45,-1.39,-1.42,-1.23,-1.38,-1.29,-1.35,-1.86,-1.34,-1.28,-1.28,-1.23,-1.22,-1.64,-1.16,-1.11,-1.09,-1.09,-1.02,-1.10,-0.90,-1.64,-0.73,-1.78,-1.56,-0.94,-1.42,-0.86,-1.31,-0.81,-1.13,-0.79,-0.94,-0.92,-0.84,-0.86,-0.65,-0.92,-0.47,-0.94,-1.45,-0.40,-1.24,-0.46,-1.13,-0.55,-0.94,-0.57,-0.80,-0.68,-0.70,-0.69,-0.61,-0.57,-0.51,-0.61,-0.32,-0.65,-1.05,-0.26,-0.84,-0.34,-0.61,-0.42,-0.44,-0.38,-0.32,-0.49,-0.87,-0.22,-0.65,-0.26,-0.51,-0.16,-0.36,-0.26,-0.47,0.67,-0.89,0.60,-0.33,0.48,-1.24,0.40,-1.09,0.28,-0.94,0.26,-0.65,0.30,-0.55,0.23,-0.44,0.19,-0.76,0.17,-1.02,0.11,-1.60,-0.06,-1.35,-0.11,
 -1.24,0,-1.13,0.02,-1.02,-0.02,-0.92,0.01,-0.83,-0.01,-0.73,0.02,-0.65,-0.02,-0.58,0,-0.51,0.02,-0.44,-0.01,-0.36,0.01,-0.29,-0.01,-0.73,-0.07,-0.55,-0.10,-0.41,-0.12,-0.80,-0.12,-0.65,-0.16,
 1.15,2.11,1.64,2.08,2.15,2.13,1.53,1.89,1.76,1.90,0.49,1.82,0.94,1.82,1.13,1.74,0.60,1.60,0.70,1.60,0.45,1.44,1.12,1.40,1.31,1.43,2.15,1.34,0.54,1.35,0.64,1.34,0.44,1.26,0.55,1.20,0.87,1.25,1.12,1.14,1.24,1.18,1.42,1.11,0.38,1.02,0.33,0.99,0.54,0.91,0.70,0.95,1.16,0.99,1.56,0.96,1.42,0.91,0.54,0.83,0.73,0.79,1.21,0.85,1.79,0.70,0.36,0.60,0.58,0.60,0.73,0.58,1.45,0.56,0.44,0.49,0.61,0.46,0.87,0.49,1.12,0.52,1.31,0.46,2.66,0.45,3.34,0.46,3.45,0.41,3.52,0.38,3.58,0.45,2.01,0.39,0.38,0.36,0.58,0.32,0.80,0.32,1.02,0.28,1.53,0.28,1.99,0.26,0.47,0.21,0.65,0.17,0.94,0.19,1.24,0.15,1.60,0.07,2.54,0.04,3.98,1.52,
 0.29,0,0.39,0.02,0.48,-0.02,0.58,0.01,0.68,-0.01,0.77,0.02,0.87,-0.02,0.99,0,1.09,0.02,1.24,-0.01,0.41,-0.07,0.58,-0.10,0.80,-0.09,0.44,-0.14,0.65,-0.18,
 0.39,-0.32,0.58,-0.26,0.73,-0.31,0.51,-0.42,0.68,-0.46,0.36,-0.59,0.58,-0.59,1.34,-0.25,1.63,-0.16,0.55,-1.13,0.49,-1.31];
const exCaudateCore = [-0.90,0.01,-0.80,-0.02,-0.70,0.02,-0.62,-0.01,-0.55,0.02,-0.48,-0.02,-0.40,0.01,-0.33,-0.01,-0.60,-0.06,-0.45,-0.05,-0.70,0.07,-0.50,0.08,-0.45,-0.22,-0.55,-0.30,-0.40,-0.35,-0.48,-0.45,-0.58,-0.55,-0.38,-0.60,-0.50,-0.75,
 0.32,0.01,0.40,-0.02,0.48,0.02,0.55,-0.01,0.62,0.02,0.70,-0.02,0.78,0.01,0.90,-0.01,0.45,0.07,0.60,0.08,0.50,-0.08,0.40,0.15,0.50,0.25,0.45,0.40,0.60,0.55,0.40,0.65,0.55,0.75,0.48,0.95,0.65,1.05];

const exDentate = [-4.73,0,-3.97,-0.35,-3.83,-0.79,-3.56,-1.16,-3.41,-0.79,-3.47,0.15,-3.16,0.11,-2.89,-0.03,-2.83,-1.80,-2.74,-1.25,-2.71,-1.31,-2.53,-1.22,-2.33,-1.23,-2.47,0.16,-2.56,-0.01,-2.38,-0.12,-2.26,-1.98,-2.11,-1.94,-2.06,-2.49,-2.15,-1.0,-1.90,-1.05,-1.66,-1.25,-1.52,-2.64,-1.57,-1.88,-1.34,-1.94,-1.26,-2.12,-1.25,-2.34,-1.05,-1.66,-1.26,-1.97,-1.93,0.49,-1.75,0.33,-1.62,0.03,-1.44,0.16,-1.30,0.39,-1.17,0.44,-0.97,0.33,-1.06,0.73,-0.88,0.73,-0.94,0.60,-0.79,0.39,-0.61,0.23,-1.75,-0.20,-1.57,-0.30,-1.39,-0.17,-1.34,-0.43,-1.16,-0.25,-1.12,-0.51,-1.03,-0.41,-0.97,-0.64,-0.90,-0.80,-0.85,-0.46,-0.76,-0.35,-0.61,-0.45,-0.88,-0.99,
 -1.93,0,-1.81,0.03,-1.70,-0.03,-1.57,0.01,-1.44,-0.02,-1.34,0.02,-1.21,-0.03,-1.08,0.01,-0.97,0.03,-0.85,-0.02,-0.72,0.01,-0.58,-0.01,-1.48,-0.09,-1.21,-0.12,-0.97,-0.09,-0.76,-0.12,
 0.72,3.41,2.42,2.58,0.83,2.16,1.14,2.17,1.37,2.17,1.99,2.14,3.99,1.74,1.05,1.88,1.55,1.87,1.62,1.76,0.87,1.73,1.26,1.63,2.31,1.64,2.58,1.64,1.14,1.55,1.32,1.51,1.99,1.51,2.91,1.48,2.27,1.42,1.37,1.38,2.45,1.35,2.60,1.24,2.17,1.29,1.23,1.14,1.99,1.13,2.94,1.06,3.34,1.03,0.72,1.08,0.87,0.99,1.05,0.92,1.44,0.89,1.91,0.89,0.83,0.81,1.14,0.76,1.26,0.70,2.36,0.70,0.72,0.65,1.44,0.60,0.90,0.50,1.14,0.45,2.0,0.51,3.0,0.31,0.65,0.39,0.87,0.31,1.32,0.28,1.59,0.23,2.13,0.17,2.64,0.10,2.94,0.04,3.61,0.02,4.26,-0.04,5.11,-0.03,5.23,0.41,5.38,0.23,5.32,-0.12,5.56,-0.14,5.70,0,4.01,-0.98,
 0.60,0,0.72,0.03,0.83,-0.03,0.96,0.01,1.08,-0.02,1.19,0.02,1.32,-0.03,1.44,0.01,1.59,0.03,1.77,-0.02,1.99,0.01,2.22,-0.01,0.78,-0.09,1.05,-0.12,1.32,-0.09,1.59,-0.12,
 0.60,-0.25,0.90,-0.30,1.23,-0.22,1.62,-0.25,0.51,-0.41,0.78,-0.57,1.05,-0.51,1.50,-0.51,0.56,-0.91,0.99,-0.75,1.35,-0.80,0.96,-1.09,1.68,-1.58,1.99,-1.61,0.72,-0.64];
const exDentateCore = [-1.62,0.01,-1.52,-0.02,-1.40,0.02,-1.30,-0.01,-1.18,0.02,-1.05,-0.02,-0.93,0.01,-0.80,-0.01,-0.68,0.02,-1.30,0.06,-1.05,-0.06,-0.85,0.07,-1.20,-0.18,-0.95,-0.25,-1.10,0.20,
 0.65,0.01,0.78,-0.02,0.90,0.02,1.02,-0.01,1.15,0.02,1.27,-0.02,1.40,0.01,1.52,-0.01,1.65,0.02,1.85,-0.01,2.05,0.01,0.90,0.07,1.20,0.06,1.50,-0.06,1.00,-0.06,1.10,0.25,0.85,0.45,1.00,0.65,1.25,-0.35];

const exDLPFC = [-6.04,0,-3.03,-0.12,-2.89,-1.66,-2.08,-1.78,-2.03,-2.06,-1.99,0.13,-1.99,-0.12,-1.88,-1.02,-1.90,-1.69,-1.67,-1.74,-1.59,-1.68,-1.48,-1.65,-1.38,-1.58,-1.51,-0.54,-1.44,-0.76,-1.30,-0.92,-1.21,-2.06,-0.98,-2.39,-1.04,-0.72,-1.02,-1.02,-0.95,-1.18,-0.93,-1.34,-0.92,-1.55,-0.84,-1.61,-0.76,-1.50,-0.70,-1.48,-0.61,-1.40,-0.67,-1.29,-0.55,-1.22,-0.49,-1.58,-0.41,-1.37,-0.57,-1.13,-0.67,-1.02,-0.49,-0.97,-0.83,-0.89,-0.64,-0.81,-0.44,-0.81,-0.80,-0.67,-0.57,-0.64,-0.38,-0.64,-0.72,-0.54,-0.49,-0.51,-1.02,-0.46,-0.87,-0.38,-0.64,-0.38,-0.41,-0.35,-0.34,-0.24,-0.72,-0.24,-0.95,-0.20,-1.18,-0.03,-0.84,0.78,-0.90,0.39,-0.54,0.56,-0.49,0.43,-0.67,0.27,-0.46,0.27,-0.34,0.38,-0.87,0.20,-1.02,0.11,-0.72,0.13,-0.38,0.16,
 -1.25,-0.01,-1.15,0.03,-1.02,-0.03,-0.92,0.01,-0.83,-0.02,-0.73,0.02,-0.64,-0.01,-0.55,-0.03,-0.46,0.01,-0.37,-0.01,-0.29,-0.04,-0.80,-0.08,-0.57,-0.11,-0.37,-0.13,-0.95,-0.11,
 2.61,3.13,1.57,3.01,0.52,2.29,0.89,2.32,1.24,2.24,1.67,2.22,1.97,2.28,0.84,1.98,0.43,1.88,0.78,1.78,0.86,1.76,1.07,1.64,1.16,1.60,1.35,1.58,2.81,1.57,0.43,1.49,0.54,1.50,0.89,1.48,0.66,1.34,0.50,1.21,0.73,1.18,0.40,1.15,1.12,1.02,0.66,1.02,0.96,0.97,0.50,0.89,0.35,0.83,0.81,0.83,1.16,0.84,2.19,0.99,2.26,1.14,1.35,0.70,1.68,0.64,1.59,0.89,0.28,0.70,0.46,0.64,0.66,0.59,0.89,0.56,0.35,0.48,0.58,0.48,0.96,0.48,1.13,0.46,1.50,0.40,1.90,0.39,2.19,0.24,0.32,0.35,0.55,0.30,0.76,0.27,1.04,0.24,1.27,0.16,1.50,0.18,1.62,0.19,0.17,0.24,0.23,0.11,1.16,-0.05,1.38,-0.17,1.73,-0.19,1.80,-0.20,0.93,-0.30,0.73,-0.43,0.40,-0.46,0.40,-0.54,0.20,-0.75,0.52,-0.94,1.04,-0.92,0.55,-0.27,0.35,-0.16,
 0.17,0,0.28,0.03,0.38,-0.03,0.47,0.01,0.58,-0.01,0.69,0.03,0.78,-0.02,0.28,-0.08,0.47,-0.11,0.66,-0.06,0.23,0.08,0.43,0.11];
const exDLPFCCore = [-1.05,0.01,-0.95,-0.02,-0.85,0.02,-0.75,-0.01,-0.67,0.02,-0.58,-0.02,-0.50,0.01,-0.42,-0.01,-0.34,0.02,-0.70,0.07,-0.55,0.06,-0.65,-0.07,-0.50,-0.18,-0.60,-0.30,-0.45,-0.45,-0.55,-0.62,-0.65,-0.85,-0.50,-1.05,-0.60,-1.20,
 0.20,0.02,0.30,-0.02,0.40,0.02,0.50,-0.01,0.60,0.02,0.70,-0.02,0.82,0.01,0.35,0.08,0.55,0.10,0.30,0.20,0.45,0.30,0.60,0.25,0.40,0.45,0.55,0.55,0.35,0.65,0.50,0.80,0.70,0.40];

const exHippo = [-5.17,0,-2.69,-1.73,-2.63,-0.21,-2.07,-1.75,-2.0,0.65,-1.95,-0.07,-1.93,-0.53,-1.86,-0.43,-1.81,-0.21,-1.61,0.13,-1.54,0,-1.44,0.13,-1.36,0.15,-1.27,0.73,-1.25,-1.91,-1.34,-1.89,-1.39,-2.01,-1.25,-2.01,-1.39,-1.29,-1.39,-0.94,-1.31,-1.13,-1.44,-0.69,-1.56,-0.50,-1.17,-1.46,-1.02,-1.29,-0.97,-1.22,-0.88,-1.19,-0.80,-1.18,-0.71,-1.18,-0.71,-1.53,-0.71,-1.97,-0.54,-1.29,-1.0,-0.99,-0.80,-0.90,-0.66,-0.85,-0.59,-0.99,-0.46,-1.0,-0.97,-0.78,-0.80,-0.71,-0.71,-0.60,-0.54,-0.55,-0.46,-0.64,-0.37,-0.62,-0.41,-0.41,-0.59,-0.36,-0.80,-0.41,-1.05,-0.36,-1.14,-0.27,-0.97,-0.20,-0.71,-0.22,-0.49,-0.27,-0.29,-0.18,-0.85,0.46,-1.14,0.15,-0.88,0.22,-0.71,0.29,-0.54,0.24,-0.37,0.20,-0.29,0.07,
 -1.05,0,-0.93,0.03,-0.83,-0.02,-0.71,0.01,-0.63,-0.01,-0.53,0.02,-0.42,-0.01,-0.32,0.01,-0.22,-0.02,-0.80,-0.08,-0.59,-0.11,-0.37,-0.08,-0.71,0.08,-0.46,0.07,
 2.59,2.91,1.42,2.42,2.42,2.24,1.54,2.21,1.25,2.17,0.80,2.0,1.15,1.97,0.86,1.82,0.93,1.79,0.51,1.68,1.10,1.73,0.61,1.57,0.73,1.55,1.41,1.61,0.81,1.45,0.69,1.40,0.36,1.33,0.56,1.20,0.81,1.17,0.36,1.10,0.39,0.99,0.64,0.99,0.90,0.96,1.41,1.06,1.53,0.99,1.32,0.95,0.44,0.85,0.64,0.82,0.90,0.80,0.47,0.68,0.73,0.66,1.03,0.64,1.41,0.71,1.80,0.71,1.88,0.61,0.31,0.57,0.56,0.52,0.86,0.54,1.24,0.45,1.78,0.47,0.31,0.43,0.59,0.38,0.98,0.33,1.32,0.29,1.71,0.27,1.37,0.05,2.14,0.09,4.63,1.67,0.39,0.24,0.73,0.20,1.07,0.15,
 0.22,0,0.34,0.03,0.44,-0.02,0.56,0.01,0.68,-0.01,0.78,0.02,0.90,-0.01,1.03,0.01,0.36,-0.08,0.59,-0.09,0.81,-0.07,0.39,0.08,0.64,0.09,
 0.36,-0.18,0.64,-0.22,0.93,-0.18,0.51,-0.32,1.07,-0.32,0.36,-0.60,0.56,-0.67,0.56,-0.55,1.24,-0.60,0.53,-0.99,0.64,-0.98,0.81,-0.84];
const exHippoCore = [-0.95,0.01,-0.85,-0.02,-0.75,0.02,-0.66,-0.01,-0.57,0.02,-0.48,-0.02,-0.39,0.01,-0.30,-0.01,-0.65,-0.07,-0.45,0.06,-0.55,-0.20,-0.40,-0.28,-0.60,-0.45,-0.48,-0.52,-0.42,-0.75,-0.55,-0.85,
 0.25,0.01,0.33,-0.02,0.41,0.02,0.50,-0.01,0.58,0.02,0.67,-0.02,0.75,0.01,0.85,-0.01,0.45,0.07,0.65,-0.07,0.35,0.18,0.50,0.30,0.40,0.45,0.60,0.40,0.45,0.60,0.55,0.75,0.40,0.90,0.65,0.55];

const jnCaudate = [-2.72,-0.09,-2.30,-0.96,-2.19,-1.02,-1.98,-1.08,-1.58,-1.06,-1.54,-0.69,-1.50,-0.74,-1.43,0,-1.23,-1.46,-1.20,-1.29,-1.15,-0.89,-1.14,-0.93,-1.15,0.45,-1.11,0.42,-1.18,0.01,-1.13,0,-1.04,0.03,-0.99,0.04,-0.96,-0.84,-0.96,0.28,-0.97,-0.17,-0.93,-0.54,-0.93,0.04,-0.87,0,-0.83,-0.03,-0.84,-0.58,-0.78,-0.52,-0.75,-1.15,-0.77,-0.92,-0.76,-0.96,-0.75,0.36,-0.70,0.41,-0.76,-0.06,-0.70,0.03,-0.67,-0.10,-0.65,-0.16,-0.63,-0.39,-0.61,0.50,-0.54,0.48,-0.56,0.25,-0.59,0.06,-0.54,0,-0.48,0.04,-0.42,-0.01,-0.56,-0.26,-0.54,-0.29,-0.50,-0.36,-0.47,-0.44,-0.45,-0.61,-0.45,-0.83,-0.54,-0.57,-0.42,0.09,-0.40,0.13,-0.37,0.16,-0.34,0.16,-0.40,-0.06,-0.48,-0.19,-0.42,-0.10,-0.38,-0.42,
 3.14,1.95,1.08,1.92,0.89,1.71,1.28,1.58,2.93,1.25,3.75,1.29,0.56,1.06,0.66,1.10,0.83,1.09,1.44,1.05,1.55,1.08,0.76,0.92,0.97,0.85,0.47,0.75,0.50,0.76,0.80,0.73,0.88,0.71,1.12,0.77,1.23,0.71,0.73,0.69,0.64,0.61,0.86,0.64,1.53,0.66,1.84,0.66,0.47,0.57,0.75,0.54,1.08,0.52,1.36,0.48,1.59,0.50,1.70,0.49,0.55,0.48,0.80,0.45,0.64,0.41,0.83,0.38,0.47,0.32,0.58,0.29,0.72,0.26,0.86,0.24,0.53,0.23,0.75,0.18,0.92,0.13,0.44,0.11,0.58,0.09,0.41,0,0.49,-0.01,0.55,0.03,0.60,0,0.67,0.02,0.73,-0.01,0.78,0.04,0.85,0,0.92,0.03,0.64,-0.06,0.49,-0.07,0.77,-0.08,0.97,-0.03,0.45,-0.17,0.53,-0.13,0.86,-0.13,1.08,-0.06,1.25,-0.09,1.14,-0.01,0.88,-0.26,1.72,0.03,0.48,-1.06];
const jnCaudateCore = [-0.68,0.01,-0.62,-0.02,-0.57,0.02,-0.52,-0.01,-0.46,0.01,-0.60,0.07,-0.50,-0.05,-0.55,-0.15,
 0.45,0.01,0.52,-0.02,0.58,0.02,0.63,-0.01,0.70,0.01,0.76,-0.02,0.82,0.02,0.60,0.06,0.70,-0.05,0.55,0.15,0.65,0.20];

const jnDentate = [-5.22,0.10,-4.10,-0.45,-4.02,-0.82,-3.52,0.08,-3.50,-1.39,-2.88,1.12,-2.84,-2.06,-2.80,0,-2.53,-0.01,-2.42,-1.50,-2.28,-1.85,-2.24,-1.41,-2.15,0.04,-2.05,-1.46,-2.04,-0.24,-1.97,-1.01,-1.80,-1.41,-1.76,-1.42,-2.17,-0.48,-1.84,-0.51,-2.01,-0.03,-1.86,0.06,-2.04,0.13,-2.01,0.25,-1.80,0.29,-1.66,0.37,-1.64,0.48,-1.49,0.44,-1.39,0.83,-1.43,0.37,-1.24,0.27,-1.18,0.51,-1.08,0.35,-0.91,1.04,-0.52,0.35,-1.01,-1.24,-1.45,-0.63,-1.24,-0.68,-1.12,-0.61,-1.43,-0.54,-1.08,-0.49,-0.87,-0.33,-1.80,-0.16,-1.59,-0.17,-1.39,-0.12,-1.24,-0.21,-1.08,-0.14,-0.93,-0.19,
 -1.74,0,-1.64,0.02,-1.53,-0.02,-1.43,0,-1.33,0.03,-1.24,-0.01,-1.14,0.01,-1.04,-0.01,-0.93,0.02,-0.83,-0.02,-0.70,0,-1.49,0.06,-1.28,0.07,-1.08,0.09,-1.39,0.14,-1.59,0.16,-1.22,0.20,-0.97,0.06,-1.49,-0.05,-1.18,-0.07,-0.91,-0.08,
 6.75,2.07,3.69,1.78,5.13,1.73,1.97,1.15,0.95,0.87,1.26,0.90,2.44,0.67,3.69,0.67,0.83,0.50,1.16,0.53,2.03,0.43,2.17,0.34,0.68,0.43,0.89,0.41,1.04,0.36,1.45,0.39,1.76,0.30,0.79,0.29,1.20,0.26,1.51,0.23,1.82,0.23,4.78,0.23,0.68,0.20,0.95,0.17,1.24,0.14,1.66,0.13,1.93,0.13,5.09,0.07,5.09,0,3.69,0,3.69,-0.05,3.11,0.02,2.75,0,3.23,-0.16,2.86,-0.33,2.28,-0.45,1.99,-0.05,2.07,-0.23,1.78,-0.19,1.51,-0.26,1.20,-0.28,0.85,-0.33,0.95,-0.45,1.47,-0.53,1.51,-0.57,1.99,-0.47,1.06,-0.75,1.24,-0.72,1.41,-0.72,
 0.68,0,0.83,0.02,0.95,-0.02,1.10,0,1.24,0.03,1.37,-0.01,1.51,0.01,1.66,-0.01,1.82,0.02,1.99,0,0.79,0.06,1.10,0.07,1.41,0.06,0.89,-0.07,1.24,-0.05,1.61,-0.05];
const jnDentateCore = [-1.60,0.01,-1.50,-0.02,-1.38,0.02,-1.27,-0.01,-1.15,0.02,-1.03,-0.02,-0.90,0.01,-1.35,0.10,-1.10,0.12,-1.25,-0.10,
 0.75,0.01,0.88,-0.02,1.00,0.02,1.15,-0.01,1.30,0.02,1.45,-0.02,1.60,0.01,1.00,0.10,1.25,0.12,1.15,-0.10,0.95,-0.15];

const jnDLPFC = [-2.34,0.46,-2.34,-0.01,-2.34,-0.05,-2.15,0,-1.99,0.55,-1.92,-0.78,-1.88,-1.06,-1.88,-1.20,-1.84,-0.83,-1.71,-1.04,-1.66,-0.76,-1.53,-1.02,-1.46,-1.22,-1.44,-1.38,-1.24,-1.60,-1.24,0.18,-1.12,-0.85,-1.07,-1.01,-1.0,-0.88,-0.99,-0.68,-0.95,-0.67,-1.05,-0.11,-1.01,-0.02,-1.0,0.16,-0.90,0.16,-0.90,-0.04,-0.84,-0.11,-0.95,-0.23,-0.83,-0.17,-0.78,-0.35,-0.73,0.57,-0.66,0.52,-0.70,0.21,-0.62,0.25,-0.64,-0.64,-0.60,-0.20,-0.58,-0.26,-0.58,-0.96,-0.56,-0.59,-0.54,-1.55,-0.55,-0.37,-0.53,-0.43,-0.51,-0.40,-0.55,0.13,-0.59,0.16,-0.53,0.07,-0.53,0.04,-0.48,0.02,-0.48,-0.02,-0.42,-0.01,-0.42,0.13,-0.40,-0.76,-0.37,0.04,-0.33,-0.08,-0.45,-0.05,-0.51,0.13,
 1.44,1.94,1.47,1.84,1.61,1.51,1.23,1.25,1.37,1.09,0.83,1.06,0.94,1.08,1.10,1.05,0.52,0.97,0.53,0.94,0.69,0.90,0.74,0.89,0.87,0.95,1.79,0.88,0.60,0.71,0.65,0.72,0.69,0.62,0.89,0.76,0.44,0.62,0.58,0.66,0.76,0.65,0.93,0.60,2.18,0.76,2.35,0.52,1.68,0.48,0.44,0.48,0.74,0.49,0.80,0.42,0.96,0.51,1.07,0.47,0.91,0.39,0.35,0.40,0.52,0.35,0.63,0.30,0.47,0.28,0.66,0.24,0.91,0.19,0.39,0.22,0.55,0.18,0.52,0.13,0.69,0.08,0.41,0.05,1.18,0.39,3.26,0.98,3.31,1.01,4.08,0.83,2.18,0.20,2.18,0.01,1.79,-0.19,1.27,-0.01,
 0.33,0,0.41,0.02,0.47,-0.02,0.52,0.01,0.58,-0.01,0.63,0.02,0.69,-0.02,0.74,0,0.91,-0.01,1.00,0.01,1.05,0,0.49,-0.05,0.63,-0.07,0.58,-0.11,0.47,-0.17,0.63,-0.20,0.69,-0.23,0.48,-0.26,0.74,-0.05,0.71,-0.26];
const jnDLPFCCore = [-0.60,0.02,-0.55,-0.02,-0.50,0.03,-0.45,0.0,-0.57,0.10,-0.50,-0.08,
 0.38,0.01,0.45,-0.02,0.52,0.02,0.58,0.0,0.65,-0.01,0.72,0.02,0.45,0.05,0.60,-0.04,0.50,0.15,0.65,0.25];

const jnHippo = [-3.41,-1.92,-2.39,0,-2.03,-0.23,-1.93,-1.03,-1.73,-0.92,-1.71,-0.93,-1.62,-0.06,-1.59,0,-1.61,-0.82,-1.49,-0.57,-1.37,0.40,-1.37,0.07,-1.33,-0.01,-1.25,-1.57,-1.18,0,-1.12,-0.10,-1.10,0.12,-1.08,-0.63,-1.02,-1.15,-1.0,-0.56,-0.91,-0.01,-0.90,-0.63,-0.87,-0.70,-0.83,-0.01,-0.81,0.05,-0.78,0.10,-0.75,-0.51,-0.75,-0.06,-0.68,0.02,-0.66,-0.01,-0.62,0.05,-0.59,-0.10,-0.59,0.25,-0.56,0.20,-0.56,0.09,-0.54,-0.87,-0.56,-0.56,-0.59,-0.43,-0.60,-0.31,-0.59,-0.23,-0.62,-0.18,-0.52,-0.15,-0.47,-0.01,-0.44,0.07,-0.41,0.29,-0.46,-0.13,-0.40,-0.07,-0.50,0.04,
 1.41,1.98,2.40,1.94,1.48,1.53,0.59,1.32,1.53,1.15,1.64,1.12,2.85,1.35,0.78,1.03,1.12,0.96,3.80,1.21,3.80,1.12,0.41,0.82,0.56,0.76,0.66,0.80,0.71,0.75,0.93,0.72,1.08,0.80,1.43,0.73,1.18,0.68,0.52,0.64,0.50,0.53,0.62,0.54,0.71,0.52,0.91,0.55,1.12,0.59,1.28,0.52,1.56,0.47,1.68,0.40,2.76,0.47,1.91,0.34,0.47,0.43,0.59,0.40,0.75,0.42,0.91,0.39,1.34,0.37,0.39,0.34,0.54,0.33,0.71,0.29,0.90,0.27,0.97,0.19,0.56,0.23,0.75,0.17,0.44,0.14,0.62,0.09,1.06,0.09,1.39,0.01,1.06,-0.06,1.06,-0.21,1.21,-0.18,1.47,-0.13,0.96,-0.33,0.44,-0.18,0.59,-0.25,0.50,-0.15,
 0.37,0,0.44,0.01,0.50,-0.01,0.56,0.01,0.62,-0.01,0.68,0.01,0.75,-0.01,0.81,0.01,0.87,0,0.46,-0.05,0.66,-0.05,0.81,-0.04];
const jnHippoCore = [-0.74,0.01,-0.68,-0.02,-0.62,0.02,-0.56,-0.01,-0.50,0.01,-0.65,0.06,-0.55,-0.05,
 0.40,0.01,0.47,-0.02,0.53,0.02,0.60,-0.01,0.67,0.02,0.74,-0.01,0.80,0.01,0.55,0.05,0.70,-0.04,0.60,0.15];

const panelPoints = [
  genesCaudate.concat(genesCaudateCore), genesDentate.concat(genesDentateCore),
  genesDLPFC.concat(genesDLPFCCore), genesHippo.concat(genesHippoCore),
  txCaudate.concat(txCaudateCore), txDentate.concat(txDentateCore),
  txDLPFC.concat(txDLPFCCore), txHippo.concat(txHippoCore),
  exCaudate.concat(exCaudateCore), exDentate.concat(exDentateCore),
  exDLPFC.concat(exDLPFCCore), exHippo.concat(exHippoCore),
  jnCaudate.concat(jnCaudateCore), jnDentate.concat(jnDentateCore),
  jnDLPFC.concat(jnDLPFCCore), jnHippo.concat(jnHippoCore)];

// ---------------- LAYOUT ----------------
const FONT = "'Liberation Sans', Arial, Helvetica, sans-serif";
const plotLeftRow1 = [83, 654, 1226, 1797];
const plotLeftOther = [86, 657, 1229, 1800];
const plotRight = [555, 1128, 1699, 2271];
const plotTop = [49, 619, 1186, 1753];
const plotBottom = [526, 1093, 1660, 2227];

const wrap = document.getElementById('wrap');

columns.forEach((t, c) => {
  const d = document.createElement('div');
  d.className = 'coltitle';
  d.textContent = t;
  d.style.left = ((plotLeftRow1[c] + plotRight[c]) / 2) + 'px';
  wrap.appendChild(d);
});
rows.forEach((t, r) => {
  const d = document.createElement('div');
  d.className = 'rowlabel';
  d.textContent = t;
  d.style.left = '2291px';
  d.style.top = ((plotTop[r] + plotBottom[r]) / 2) + 'px';
  wrap.appendChild(d);
});

const decor = {
  id: 'decor',
  afterDraw(chart, args, o) {
    const ctx = chart.ctx, a = chart.chartArea;
    ctx.save();
    ctx.strokeStyle = '#333333';
    ctx.lineWidth = 1.3;
    ctx.strokeRect(a.left, a.top, a.right - a.left, a.bottom - a.top);
    ctx.fillStyle = '#000';
    ctx.textAlign = 'left';
    ctx.textBaseline = 'alphabetic';
    const f = '21px ' + FONT;
    if (o.row === 0) {
      let x = a.left + 20, y = a.top + 50;
      ctx.font = f; ctx.fillText('R', x, y); x += ctx.measureText('R').width;
      ctx.font = '14px ' + FONT; ctx.fillText('2', x + 1, y - 9); x += ctx.measureText('2').width + 1;
      ctx.font = f; ctx.fillText(' = ' + o.r, x, y);
      ctx.fillText('p ' + o.p, a.left + 20, a.top + 75);
      ctx.textAlign = 'right';
      ctx.fillText('nGene = ' + o.n, a.right - 10, a.bottom - 8);
    } else {
      let x = a.left + 39, y = a.top + 50;
      ctx.font = 'italic ' + f; ctx.fillText('R', x, y); x += ctx.measureText('R').width;
      ctx.font = f; ctx.fillText(' = ' + o.r, x, y);
      x = a.left + 22; y = a.top + 91;
      ctx.font = 'italic ' + f; ctx.fillText('p', x, y); x += ctx.measureText('p').width;
      ctx.font = f; ctx.fillText(' ' + o.p, x, y);
    }
    ctx.restore();
  }
};
Chart.register(decor);

function pairs(flat) {
  const out = [];
  for (let i = 0; i + 1 < flat.length; i += 2) out.push({x: flat[i], y: flat[i + 1]});
  return out;
}

for (let i = 0; i < 16; i++) {
  const r = Math.floor(i / 4), c = i % 4;
  let top = plotTop[r], bottom = plotBottom[r];
  if (i === 0) { top = 43; bottom = 520; }
  const left = (r === 0 ? plotLeftRow1[c] : plotLeftOther[c]);
  const right = plotRight[c];
  const canvasLeft = plotLeftRow1[c] - 90;
  const yAxisW = left - canvasLeft;
  const padT = 12, padR = 14, padB = 100;
  const W = right - canvasLeft + padR, H = bottom - top + padT + padB;
  const cv = document.createElement('canvas');
  cv.width = W; cv.height = H;
  cv.style.left = canvasLeft + 'px'; cv.style.top = (top - padT) + 'px';
  cv.style.width = W + 'px'; cv.style.height = H + 'px';
  wrap.appendChild(cv);

  const xt = xTicks[i], xl = xTickLabels[i], yt = yTicks[i], yl = yTickLabels[i];
  const bx = [fitX0[i], 0, fitX1[i]];

  new Chart(cv, {
    type: 'scatter',
    data: {
      datasets: [
        {type: 'line', data: [{x: fitX0[i], y: fitY0[i]}, {x: fitX1[i], y: fitY1[i]}],
          borderColor: '#0000ff', borderWidth: 3, pointRadius: 0, fill: false, order: 0},
        {data: pairs(panelPoints[i]), backgroundColor: 'rgba(0,0,0,0.6)', borderWidth: 0,
          pointRadius: 2.8, order: 1},
        {type: 'line', data: bx.map((x, k) => ({x: x, y: bandHi[i][k]})), borderWidth: 0,
          pointRadius: 0, backgroundColor: '#ebebeb', fill: '+1', order: 2},
        {type: 'line', data: bx.map((x, k) => ({x: x, y: bandLo[i][k]})), borderWidth: 0,
          pointRadius: 0, fill: false, order: 2}
      ]
    },
    options: {
      responsive: false, animation: false, devicePixelRatio: 1, events: [],
      layout: {padding: {left: 0, top: padT, right: padR, bottom: 0}},
      plugins: {legend: {display: false}, tooltip: {enabled: false},
        decor: {row: r, r: statR[i], p: statP[i], n: nGene[c]}},
      scales: {
        x: {
          type: 'linear', min: xMin[i], max: xMax[i],
          afterFit(s) { s.height = padB; },
          afterBuildTicks(s) { s.ticks = xt.map(v => ({value: v})); },
          ticks: {callback: (v) => xl[xt.indexOf(v)], color: '#333', padding: -2,
            font: {family: FONT, size: 17, lineHeight: 1}, maxRotation: 0, autoSkip: false},
          grid: {drawOnChartArea: false, drawTicks: true, tickLength: 5, tickColor: '#333', tickWidth: 1.2},
          border: {display: false},
          title: {display: true, text: ['Observed', '(Effect Size)'], color: '#000',
            font: {family: FONT, size: 23, weight: 'bold', lineHeight: 1.05},
            padding: {top: 0, bottom: 19}}
        },
        y: {
          type: 'linear', min: yMin[i], max: yMax[i],
          afterFit(s) { s.width = yAxisW; },
          afterBuildTicks(s) { s.ticks = yt.map(v => ({value: v})); },
          ticks: {callback: (v) => yl[yt.indexOf(v)], color: '#333', padding: 2,
            font: {family: FONT, size: 17, lineHeight: 1}, autoSkip: false},
          grid: {drawOnChartArea: false, drawTicks: true, tickLength: 6, tickColor: '#333', tickWidth: 1.2},
          border: {display: false},
          title: {display: true, text: ['Predicted', '(Effect Size)'], color: '#000',
            font: {family: FONT, size: 23, weight: 'bold', lineHeight: 1.05},
            padding: {top: 6, bottom: 0}}
        }
      }
    }
  });
}
</script>
</body></html>
